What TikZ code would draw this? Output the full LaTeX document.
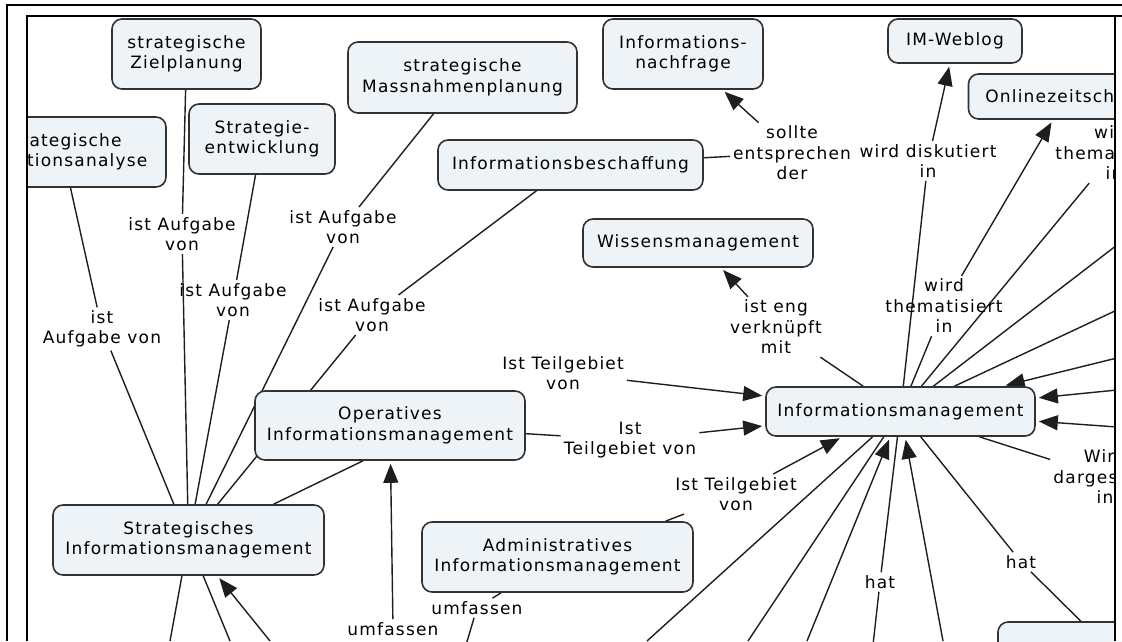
\documentclass[tikz,border=0pt]{standalone}
\usepackage{fontspec}
\setmainfont{DejaVu Sans}[LetterSpace=7]
\usetikzlibrary{arrows.meta,backgrounds}
\definecolor{cmapfill}{RGB}{237,243,246}
\definecolor{cmapline}{RGB}{30,30,30}
\definecolor{cmapborder}{RGB}{50,50,50}

\begin{document}
\begin{tikzpicture}[x=1pt, y=-1pt,
  every node/.style={font=\fontsize{17pt}{20.5pt}\selectfont},
  concept/.style={draw=cmapborder, fill=cmapfill, line width=1.6pt, rounded corners=10pt, align=center, inner sep=0pt},
  linkword/.style={align=center, inner sep=3pt},
  link/.style={draw=cmapline, line width=1.4pt},
  tolink/.style={draw=cmapline, line width=1.4pt, -{Triangle[length=19pt,width=15pt]}, shorten >=3pt}]
\useasboundingbox (0,0) rectangle (1122,641);

\node[concept, minimum width=149pt, minimum height=70pt] (zp) at (186.5,54) {strategische\\Zielplanung};
\node[concept, minimum width=146pt, minimum height=70pt] (se) at (262,139) {Strategie-\\entwicklung};
\node[concept, minimum width=207pt, minimum height=70pt] (sa) at (62.5,152) {strategische\\Situationsanalyse};
\node[concept, minimum width=229pt, minimum height=71pt] (mp) at (462.5,77.5) {strategische\\Massnahmenplanung};
\node[concept, minimum width=160pt, minimum height=70pt] (inf) at (683,54) {Informations-\\nachfrage};
\node[concept, minimum width=265pt, minimum height=50pt] (ib) at (570.5,165) {Informationsbeschaffung};
\node[concept, minimum width=134pt, minimum height=44pt] (imw) at (955,41) {IM-Weblog};
\node[concept, minimum width=215pt, minimum height=45pt] (olz) at (1076,96.5) {Onlinezeitschriften};
\node[concept, minimum width=230pt, minimum height=48pt] (wm) at (698,243) {Wissensmanagement};
\node[concept, minimum width=269pt, minimum height=49pt] (imgmt) at (900.5,411.5) {Informationsmanagement};
\node[concept, minimum width=270pt, minimum height=69pt] (oim) at (390,425.5) {Operatives\\Informationsmanagement};
\node[concept, minimum width=271pt, minimum height=70pt] (sim) at (188.5,540) {Strategisches\\Informationsmanagement};
\node[concept, minimum width=271pt, minimum height=70pt] (aim) at (557.5,557) {Administratives\\Informationsmanagement};
\node[concept, minimum width=244pt, minimum height=76pt] (bot) at (1120,660) {};

\node[linkword] (a1) at (182,234) {ist Aufgabe\\von};
\node[linkword] (a2) at (233,300) {ist Aufgabe\\von};
\node[linkword] (a3) at (102,329) {ist\\Aufgabe von};
\node[linkword] (a4) at (343,227) {ist Aufgabe\\von};
\node[linkword] (a5) at (372,315) {ist Aufgabe\\von};
\node[linkword] (s) at (792,153) {sollte\\entsprechen\\der};
\node[linkword] (d) at (928,161) {wird diskutiert\\in};
\node[linkword] (w1) at (1114,153) {wird\\thematisiert\\in};
\node[linkword] (w2) at (944,306) {wird\\thematisiert\\in};
\node[linkword] (v) at (776,327) {ist eng\\verknüpft\\mit};
\node[linkword] (t1) at (630,440) {Ist\\Teilgebiet von};
\node[linkword] (t2) at (563,373) {Ist Teilgebiet\\von};
\node[linkword] (t3) at (736,494) {Ist Teilgebiet\\von};
\node[linkword] (w3) at (1105,477) {Wird\\dargestellt\\in};
\node[linkword] (h1) at (880,582) {hat};
\node[linkword] (h2) at (1021,562) {hat};
\node[linkword] (u1) at (393,629) {umfassen};
\node[linkword] (u2) at (477,608) {umfassen};

\coordinate (im1) at (647,641);
\coordinate (im2) at (748,641);
\coordinate (im3) at (807,641);
\coordinate (im4) at (943,641);
\coordinate (h1e) at (873,645);
\coordinate (r1) at (1117,245);
\coordinate (r2) at (1117,310);
\coordinate (r3) at (1125,356);
\coordinate (r4) at (1117,390);
\coordinate (r5) at (1117,427);
\coordinate (s1) at (170,641);
\coordinate (s2) at (230,641);
\coordinate (s3) at (270,641);
\coordinate (u2e) at (466,645);

\begin{pgfonlayer}{background}
\fill[white] (0,0) rectangle (1122,641);
\foreach \lw/\cn in {a1/zp, a2/se, a3/sa, a4/mp, a5/ib}
{
\draw[link] (sim) -- (\lw);
\draw[link] (\lw) -- (\cn);
}
\draw[link] ([xshift=85pt]sim.north) -- ([xshift=-27pt]oim.south);
\foreach \p in {s1, s2}
\draw[link] (\p) -- (sim);
\draw[tolink] (s3) -- (sim);
\draw[link] (oim) -- (t1);
\draw[tolink] (t1) -- (imgmt);
\draw[tolink] (t2) -- (imgmt);
\draw[link] ([xshift=108pt]aim.north) -- (t3);
\draw[tolink] (t3) -- ([xshift=-58pt]imgmt.south);
\draw[tolink] (u1) -- (oim);
\draw[link] (aim) -- (u2);
\draw[link] (u2) -- (u2e);
\draw[link] (ib) -- (s);
\draw[tolink] (s) -- (inf);
\draw[link] (imgmt) -- (d);
\draw[tolink] (d) -- (imw);
\draw[link] (imgmt) -- (w2);
\draw[tolink] (w2) -- ([xshift=-23pt]olz.south);
\draw[link] (imgmt) -- (w1);
\draw[link] (imgmt) -- (v);
\draw[tolink] (v) -- (wm);
\draw[link] (imgmt) -- (w3);
\draw[link] (imgmt) -- (h1);
\draw[link] (h1) -- (h1e);
\draw[link] (imgmt) -- (h2);
\draw[link] (h2) -- (bot);
\foreach \p in {im1, im2, r1, r2}
\draw[link] (\p) -- (imgmt);
\foreach \p in {im3, im4, r3, r4, r5}
\draw[tolink] (\p) -- (imgmt);
\end{pgfonlayer}

\fill[white] (0,0) rectangle (27,641);
\fill[white] (0,0) rectangle (1122,16);
\fill[white] (1115,0) rectangle (1122,641);
\draw[line width=2pt] (7,641) -- (7,5) -- (1122,5);
\draw[line width=2pt] (27,641) -- (27,16) -- (1122,16);
\draw[line width=2pt] (1115,16) -- (1115,641);
\end{tikzpicture}
\end{document}
